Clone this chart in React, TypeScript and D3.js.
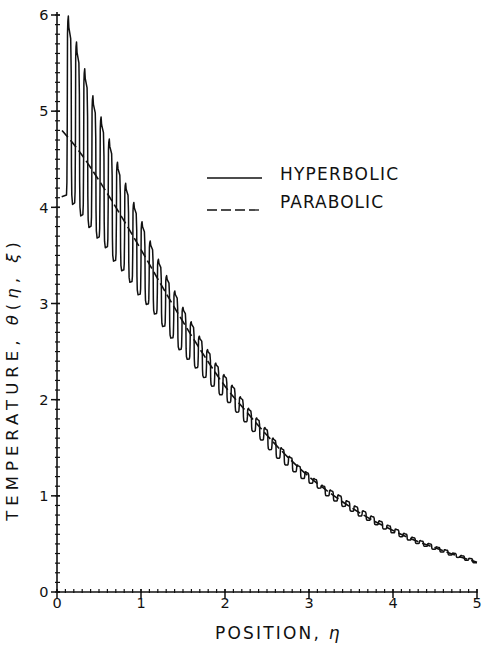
import React from "react";
import * as d3 from "d3";

// Parabolic solution (smooth curve)
const paraEta = [0.06, 0.25, 0.5, 0.75, 1.0, 1.25, 1.5, 1.75, 2.0, 2.25, 2.5, 2.75, 3.0, 3.25, 3.5, 3.75, 4.0, 4.25, 4.5, 4.75, 5.0];
const paraTheta = [4.8, 4.6, 4.28, 3.93, 3.56, 3.18, 2.81, 2.46, 2.14, 1.88, 1.63, 1.4, 1.2, 1.03, 0.88, 0.75, 0.64, 0.54, 0.46, 0.38, 0.31];

// Hyperbolic solution: oscillation peaks and troughs, read cycle by cycle
const hypStartEta = 0.056;
const hypFirstPeakEta = 0.135;
const hypPeriod = 0.0975;
const hypPeaks = [
  5.99, 5.72, 5.44, 5.16, 4.94, 4.71, 4.47, 4.25, 4.05, 3.85,
  3.65, 3.46, 3.29, 3.13, 2.96, 2.81, 2.66, 2.52, 2.38, 2.26,
  2.15, 2.03, 1.91, 1.81, 1.71, 1.6, 1.5, 1.41, 1.32, 1.25,
  1.18, 1.11, 1.06, 1.01, 0.95, 0.895, 0.845, 0.79, 0.74, 0.695,
  0.655, 0.61, 0.57, 0.535, 0.505, 0.47, 0.44, 0.405, 0.38, 0.35,
];
const hypTroughs = [
  4.11, 4.03, 3.91, 3.79, 3.68, 3.58, 3.44, 3.34, 3.22, 3.09,
  2.99, 2.89, 2.76, 2.64, 2.52, 2.42, 2.33, 2.23, 2.14, 2.05,
  1.97, 1.87, 1.77, 1.67, 1.58, 1.48, 1.39, 1.32, 1.25, 1.18,
  1.13, 1.08, 1.0, 0.945, 0.89, 0.84, 0.79, 0.745, 0.7, 0.655,
  0.615, 0.575, 0.54, 0.505, 0.475, 0.445, 0.415, 0.385, 0.36, 0.33,
  0.305,
];

const xTicks = [0, 1, 2, 3, 4, 5];
const yTicks = [0, 1, 2, 3, 4, 5, 6];
const legendLabels = ["HYPERBOLIC", "PARABOLIC"];

const W = 483;
const H = 649;
const FONT = "'DejaVu Sans', 'Liberation Sans', sans-serif";

export default function App() {
  const x = d3.scaleLinear().domain([0, 5]).range([57, 477]);
  const y = d3.scaleLinear().domain([0, 6]).range([592, 15]);

  // hyperbolic path points: each cycle = vertical rise, pointed top, vertical fall, rounded trough
  const hp: [number, number][] = [];
  hp.push([hypStartEta, hypTroughs[0]]);
  hypPeaks.forEach((Hv, i) => {
    const pe = hypFirstPeakEta + i * hypPeriod;
    const L = hypTroughs[i];
    const Ln = hypTroughs[i + 1];
    const A = Hv - L;
    const An = Hv - Ln;
    const r = pe - 0.013;
    hp.push([r - 0.009, L + 0.01 * A]);
    hp.push([r - 0.004, L + 0.08 * A]);
    hp.push([r, L + 0.4 * A]);
    hp.push([r + 0.003, Hv - 0.1 * A]);
    hp.push([r + 0.007, Hv - 0.03 * A]);
    hp.push([pe, Hv]);
    hp.push([pe + 0.006, Hv - 0.06 * An]);
    hp.push([pe + 0.028, Hv - 0.12 * An]);
    hp.push([pe + 0.034, Hv - 0.3 * An]);
    hp.push([pe + 0.037, Ln + 0.2 * An]);
    hp.push([pe + 0.041, Ln + 0.05 * An]);
    hp.push([pe + 0.05, Ln]);
  });
  hp.push([5.0, hypTroughs[hypTroughs.length - 1]]);

  const lineLin = d3
    .line<[number, number]>()
    .x((d) => x(d[0]))
    .y((d) => y(d[1]));
  const hypPath = lineLin(hp) || "";

  const paraPts: [number, number][] = paraEta.map((e, i) => [e, paraTheta[i]]);
  const paraPath =
    d3
      .line<[number, number]>()
      .x((d) => x(d[0]))
      .y((d) => y(d[1]))
      .curve(d3.curveMonotoneX)(paraPts) || "";

  const xMinor = d3.range(0, 51).map((i) => i / 10);
  const yMinor = d3.range(0, 61).map((i) => i / 10);

  const stroke = "#111";

  return (
    <svg
      width={W}
      height={H}
      style={{ position: "absolute", left: 0, top: 0, background: "#fff" }}
    >
      <rect x={0} y={0} width={W} height={H} fill="#fff" />
      {/* axes */}
      <line x1={x(0)} x2={x(0)} y1={y(6) - 3} y2={y(0)} stroke={stroke} strokeWidth={1.6} />
      <line x1={x(0)} x2={x(5)} y1={y(0)} y2={y(0)} stroke={stroke} strokeWidth={1.6} />
      {yMinor.map((v) => (
        <line key={"ym" + v} x1={x(0) - 2} x2={x(0) + 3} y1={y(v)} y2={y(v)} stroke={stroke} strokeWidth={1.2} />
      ))}
      {yTicks.map((v) => (
        <line key={"yt" + v} x1={x(0) - 6} x2={x(0) + 3} y1={y(v)} y2={y(v)} stroke={stroke} strokeWidth={1.5} />
      ))}
      {xMinor.map((v) => (
        <line key={"xm" + v} x1={x(v)} x2={x(v)} y1={y(0) - 3} y2={y(0) + 1} stroke={stroke} strokeWidth={1.2} />
      ))}
      {xTicks.map((v) => (
        <line key={"xt" + v} x1={x(v)} x2={x(v)} y1={y(0) - 3} y2={y(0) + 6} stroke={stroke} strokeWidth={1.5} />
      ))}
      {yTicks.map((v) => (
        <text key={"yl" + v} x={48.5} y={y(v)} dy="0.36em" textAnchor="end" fontFamily={FONT} fontSize={14.5} fill={stroke}>
          {v}
        </text>
      ))}
      {xTicks.map((v) => (
        <text key={"xl" + v} x={x(v)} y={608} textAnchor="middle" fontFamily={FONT} fontSize={14.5} fill={stroke}>
          {v}
        </text>
      ))}
      {/* axis titles */}
      <text x={215} y={639} fontFamily={FONT} fontSize={17} fill={stroke} letterSpacing={2.2}>
        POSITION, <tspan fontStyle="italic">η</tspan>
      </text>
      <text
        transform="translate(18,379) rotate(-90)"
        textAnchor="middle"
        fontFamily={FONT}
        fontSize={16.5}
        fill={stroke}
        letterSpacing={5}
      >
        TEMPERATURE, <tspan fontStyle="italic">θ</tspan>(<tspan fontStyle="italic">η</tspan>, <tspan fontStyle="italic">ξ</tspan>)
      </text>
      {/* curves */}
      <path d={paraPath} fill="none" stroke={stroke} strokeWidth={1.6} strokeDasharray="9,4" />
      <path d={hypPath} fill="none" stroke={stroke} strokeWidth={1.5} strokeLinejoin="round" />
      {/* legend */}
      <line x1={207} x2={262} y1={178} y2={178} stroke={stroke} strokeWidth={1.3} />
      <line x1={207} x2={262} y1={210} y2={210} stroke={stroke} strokeWidth={1.3} strokeDasharray="10,4" />
      <text x={280} y={180} fontFamily={FONT} fontSize={17} fill={stroke} textLength={118} lengthAdjust="spacing">
        {legendLabels[0]}
      </text>
      <text x={280} y={208} fontFamily={FONT} fontSize={17} fill={stroke} textLength={103} lengthAdjust="spacing">
        {legendLabels[1]}
      </text>
    </svg>
  );
}
